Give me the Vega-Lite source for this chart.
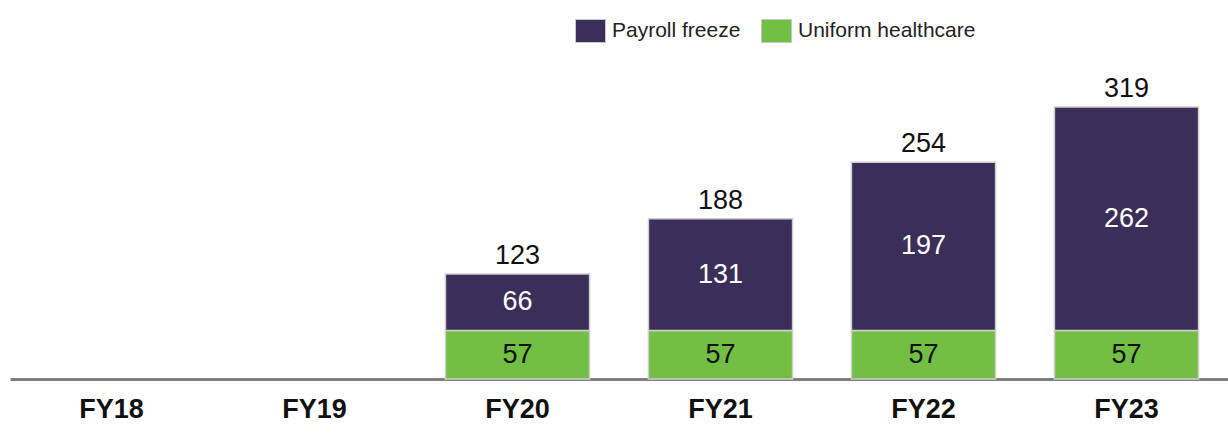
{
  "$schema": "https://vega.github.io/schema/vega-lite/v6.json",
  "width": 1218,
  "height": 290,
  "autosize": {"type": "none"},
  "padding": {"left": 10, "top": 89, "right": 0, "bottom": 65},
  "config": {
    "view": {"stroke": null},
    "font": "Liberation Sans",
    "legend": {
      "orient": "none",
      "legendX": 565,
      "legendY": -74,
      "direction": "horizontal",
      "padding": 0,
      "title": null,
      "symbolType": "M-1,-0.767H1V0.767H-1Z",
      "symbolSize": 900,
      "symbolStrokeColor": "#c8c8c8",
      "symbolStrokeWidth": 1,
      "symbolOpacity": 1,
      "labelFont": "Liberation Sans",
      "labelFontSize": 21,
      "labelLimit": 0,
      "labelColor": "#222222",
      "labelOffset": 6,
      "columnPadding": 18
    }
  },
  "datasets": {
    "segments": [
      {"year": "FY20", "series": "Uniform healthcare", "value": 57},
      {"year": "FY20", "series": "Payroll freeze", "value": 66},
      {"year": "FY21", "series": "Uniform healthcare", "value": 57},
      {"year": "FY21", "series": "Payroll freeze", "value": 131},
      {"year": "FY22", "series": "Uniform healthcare", "value": 57},
      {"year": "FY22", "series": "Payroll freeze", "value": 197},
      {"year": "FY23", "series": "Uniform healthcare", "value": 57},
      {"year": "FY23", "series": "Payroll freeze", "value": 262}
    ],
    "totals": [
      {"year": "FY20", "total": 123},
      {"year": "FY21", "total": 188},
      {"year": "FY22", "total": 254},
      {"year": "FY23", "total": 319}
    ]
  },
  "layer": [
    {
      "data": {"name": "segments"},
      "mark": {"type": "bar", "stroke": "#cfcfcf", "strokeWidth": 1.5},
      "encoding": {
        "x": {
          "field": "year", "type": "nominal",
          "scale": {"domain": ["FY18", "FY19", "FY20", "FY21", "FY22", "FY23"], "paddingInner": 0.29, "paddingOuter": 0.145},
          "axis": {
            "title": null, "ticks": false, "tickSize": 0, "labelAngle": 0,
            "domainColor": "#7f7f7f", "domainWidth": 3,
            "labelFont": "Liberation Sans", "labelFontSize": 27, "labelFontWeight": "bold",
            "labelColor": "#111111", "labelPadding": 17
          }
        },
        "y": {
          "field": "value", "type": "quantitative", "stack": "zero",
          "scale": {"domain": [0, 340], "nice": false},
          "axis": null
        },
        "color": {
          "field": "series", "type": "nominal",
          "scale": {"domain": ["Payroll freeze", "Uniform healthcare"], "range": ["#3b2f5a", "#72bf44"]},
          "legend": {}
        },
        "order": {"field": "series", "sort": "descending"}
      }
    },
    {
      "data": {"name": "segments"},
      "mark": {"type": "text", "baseline": "middle", "fontSize": 27, "font": "Liberation Sans"},
      "encoding": {
        "x": {"field": "year", "type": "nominal"},
        "y": {"field": "value", "type": "quantitative", "stack": "zero", "bandPosition": 0.5},
        "order": {"field": "series", "sort": "descending"},
        "text": {"field": "value", "type": "quantitative"},
        "color": {
          "condition": {"test": "datum.series === 'Payroll freeze'", "value": "#ffffff"},
          "value": "#111111"
        }
      }
    },
    {
      "data": {"name": "totals"},
      "mark": {"type": "text", "baseline": "alphabetic", "dy": -10, "fontSize": 27, "font": "Liberation Sans", "color": "#111111"},
      "encoding": {
        "x": {"field": "year", "type": "nominal"},
        "y": {"field": "total", "type": "quantitative"},
        "text": {"field": "total", "type": "quantitative"}
      }
    }
  ]
}
